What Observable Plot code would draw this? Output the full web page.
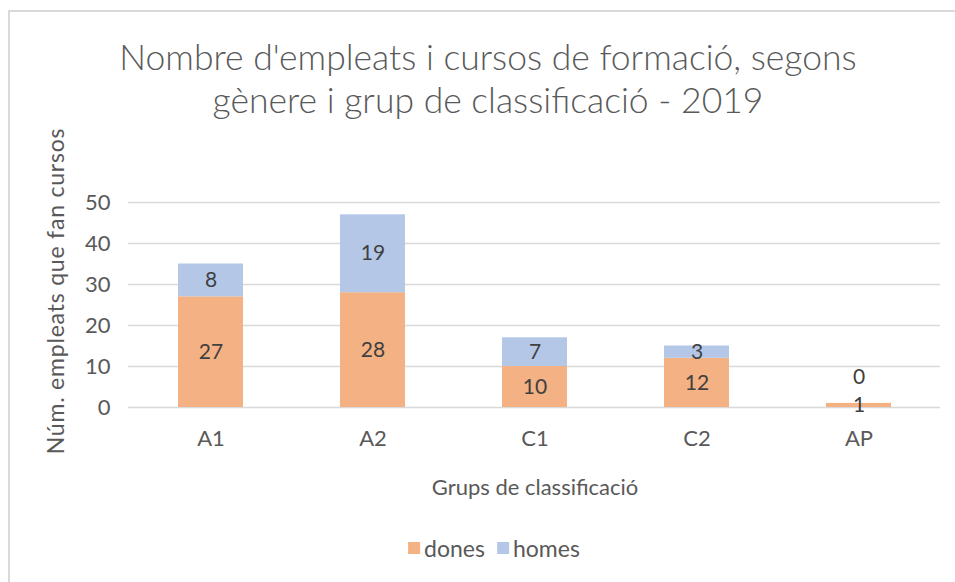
<!DOCTYPE html>
<html>
<head>
<meta charset="utf-8">
<script src="https://cdn.jsdelivr.net/npm/d3@7"></script>
<script src="https://cdn.jsdelivr.net/npm/@observablehq/plot@0.6"></script>
<style>
  html, body { margin: 0; padding: 0; background: #fff; }
  body { width: 955px; height: 582px; position: relative; overflow: hidden; font-family: Lato, "Open Sans", sans-serif; color: #595959; }
  #frame { position: absolute; left: 8px; top: 10px; width: 960px; height: 600px; border-top: 2px solid #d9d9d9; border-left: 2px solid #d9d9d9; box-sizing: border-box; }
  #title { position: absolute; left: 0; width: 976px; top: 35px; text-align: center; font-size: 35.5px; line-height: 43px; color: #595959; font-weight: 300; }
  #ylabel { position: absolute; left: 55px; top: 291px; transform: translate(-50%, -50%) rotate(-90deg); white-space: nowrap; font-size: 23px; letter-spacing: 0.8px; }
  #xlabel { position: absolute; left: 535px; top: 473px; transform: translateX(-50%); white-space: nowrap; font-size: 22px; }
  #legend { position: absolute; left: 494px; top: 534px; transform: translateX(-50%); white-space: nowrap; font-size: 23px; display: flex; align-items: center; gap: 0; }
  .sw { display: inline-block; width: 12px; height: 12px; margin-right: 4px; }
  .item { display: inline-flex; align-items: center; margin: 0 6px; }
  #chart { position: absolute; left: 0; top: 170px; }
</style>
</head>
<body>
<div id="frame"></div>
<div id="title">Nombre d'empleats i cursos de formació, segons<br>gènere i grup de classificació - 2019</div>
<div id="ylabel">Núm. empleats que fan cursos</div>
<div id="xlabel">Grups de classificació</div>
<div id="legend"></div>
<div id="chart"></div>
<script>
const groups = ["A1", "A2", "C1", "C2", "AP"];
const series = ["dones", "homes"];
const dones = [27, 28, 10, 12, 1];
const homes = [8, 19, 7, 3, 0];
const yTicks = [0, 10, 20, 30, 40, 50];
const colors = ["#F4B183", "#B4C7E7"];

const data = groups.flatMap((g, i) => [
  {group: g, genere: "dones", value: dones[i]},
  {group: g, genere: "homes", value: homes[i]}
]);

const chart = Plot.plot({
  width: 955,
  height: 290,
  marginTop: 32,
  marginBottom: 53,
  marginLeft: 128,
  marginRight: 15,
  style: {fontFamily: "Lato, 'Open Sans', sans-serif", fontSize: "22px", color: "#595959", background: "transparent"},
  x: {domain: groups, paddingInner: 0.6, paddingOuter: 0.3, label: null},
  y: {domain: [0, 50], label: null},
  color: {domain: series, range: colors},
  marks: [
    Plot.ruleY(yTicks, {stroke: "#d9d9d9", strokeWidth: 1.3}),
    Plot.barY(data, {x: "group", y: "value", fill: "genere"}),
    Plot.text(data, Plot.stackY({x: "group", y: "value", text: d => d.value === 0 ? null : d.value, fill: "#404040", fontSize: 21})),
    Plot.text(data, Plot.stackY({x: "group", y: "value", text: d => d.value === 0 ? String(d.value) : null, fill: "#404040", fontSize: 21, dy: -26})),
    Plot.axisX({tickSize: 0, tickPadding: 23, fontSize: 22}),
    Plot.axisY({ticks: yTicks, tickSize: 0, tickPadding: 18, fontSize: 22})
  ]
});
document.getElementById("chart").appendChild(chart);

const legend = document.getElementById("legend");
series.forEach((s, i) => {
  const item = document.createElement("span");
  item.className = "item";
  item.innerHTML = `<span class="sw" style="background:${colors[i]}"></span>${s}`;
  legend.appendChild(item);
});
</script>
</body>
</html>
